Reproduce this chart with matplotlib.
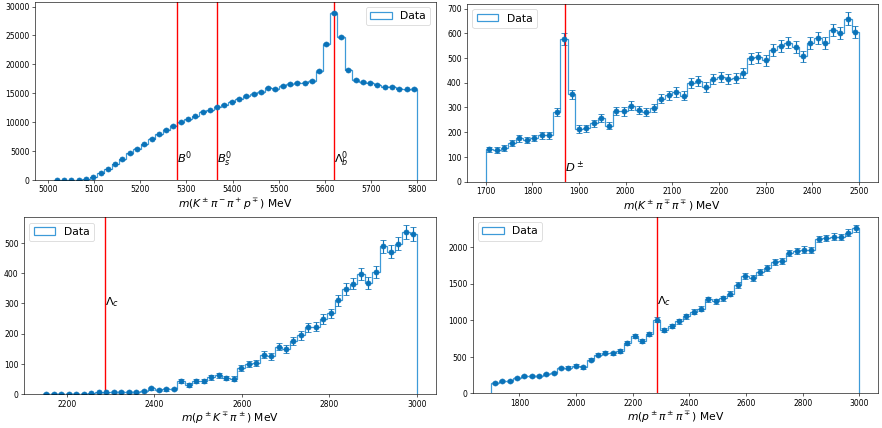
import numpy as np
import matplotlib
matplotlib.use("Agg")
import matplotlib.pyplot as plt

# ---------------- data ----------------
# Panel 1: m(K pi pi p)
p1_lo, p1_hi, p1_n = 5012, 5800, 50
p1_counts = [10, 15, 25, 40, 120, 460, 1150, 1900, 2770, 3580,
             4620, 5420, 6170, 7100, 7900, 8650, 9350, 9980, 10500, 11000,
             11830, 12060, 12700, 13040, 13560, 14080, 14540, 14890, 15175, 15980,
             15750, 16270, 16560, 16850, 16850, 17140, 18810, 23480, 28850, 24700,
             19100, 17250, 16960, 16850, 16500, 16160, 16160, 15810, 15690, 15750]
p1_lines = [5279.6, 5366.9, 5619.6]
p1_labels = [r'$B^0$', r'$B^0_s$', r'$\Lambda^0_b$']
p1_label_y = 3000

# Panel 2: m(K pi pi)
p2_lo, p2_hi, p2_n = 1700, 2500, 50
p2_counts = [130, 128, 137, 155, 175, 168, 177, 188, 188, 283,
             578, 353, 213, 216, 236, 258, 226, 285, 284, 307,
             290, 282, 297, 336, 349, 363, 347, 398, 406, 383,
             415, 423, 415, 418, 440, 500, 503, 492, 533, 548,
             563, 545, 508, 560, 580, 561, 614, 600, 660, 605]
p2_lines = [1869.7]
p2_labels = [r'$D^\pm$']
p2_label_y = 40

# Panel 3: m(p K pi)
p3_lo, p3_hi, p3_n = 2145, 3000, 50
p3_counts = [1, 1, 1, 1, 1, 1, 2, 5, 5, 7,
             7, 7, 7, 9, 19, 13, 15, 17, 42, 30,
             42, 42, 55, 62, 53, 51, 86, 100, 103, 130,
             125, 157, 149, 175, 194, 221, 223, 249, 267, 310,
             348, 366, 398, 368, 405, 489, 472, 498, 536, 529]
p3_lines = [2286.5]
p3_labels = [r'$\Lambda_c$']
p3_label_y = 295

# Panel 4: m(p pi pi)
p4_lo, p4_hi, p4_n = 1700, 3000, 50
p4_counts = [146, 164, 174, 215, 233, 233, 242, 265, 278, 347,
             352, 379, 356, 461, 530, 557, 548, 580, 685, 781,
             717, 808, 1009, 863, 922, 986, 1055, 1119, 1160, 1288,
             1260, 1301, 1365, 1484, 1603, 1576, 1667, 1722, 1799, 1817,
             1922, 1950, 1968, 1959, 2114, 2128, 2146, 2142, 2197, 2260]
p4_lines = [2286.5]
p4_labels = [r'$\Lambda_c$']
p4_label_y = 1220

xlabels = [r'$m(K^\pm\pi^-\pi^+p^\mp)$ MeV',
           r'$m(K^\pm\pi^\mp\pi^\mp)$ MeV',
           r'$m(p^\pm K^\mp\pi^\pm)$ MeV',
           r'$m(p^\pm\pi^\pm\pi^\mp)$ MeV']

# ---------------- figure ----------------
dpi = 55.125
fig = plt.figure(figsize=(882 / dpi, 428.2 / dpi), dpi=dpi)

rects = [
    [0.0397, 0.5794, 0.4543, 0.4166],
    [0.5295, 0.5755, 0.4656, 0.4152],
    [0.0272, 0.0794, 0.4668, 0.4129],
    [0.5360, 0.0810, 0.4591, 0.4127],
]
ylims = [30870, 720, 586, 2420]
legend_locs = ['upper right', 'upper left', 'upper left', 'upper left']

panels = [
    (p1_lo, p1_hi, p1_n, p1_counts, p1_lines, p1_labels, p1_label_y),
    (p2_lo, p2_hi, p2_n, p2_counts, p2_lines, p2_labels, p2_label_y),
    (p3_lo, p3_hi, p3_n, p3_counts, p3_lines, p3_labels, p3_label_y),
    (p4_lo, p4_hi, p4_n, p4_counts, p4_lines, p4_labels, p4_label_y),
]

for i, (lo, hi, n, counts, lines, labels, ly) in enumerate(panels):
    ax = fig.add_axes(rects[i])
    edges = np.linspace(lo, hi, n + 1)
    centers = 0.5 * (edges[:-1] + edges[1:])
    counts = np.asarray(counts, dtype=float)
    ax.hist(centers, bins=edges, weights=counts, histtype='step',
            color='#3d9ad8', linewidth=1.6, label='Data')
    ax.errorbar(centers, counts, yerr=np.sqrt(counts), fmt='o',
                color='#0a72b8', markersize=6.5, capsize=4, elinewidth=1.5)
    for xv, lab in zip(lines, labels):
        ax.axvline(xv, color='red', linewidth=1.8)
        ax.text(xv, ly, lab, fontsize=15)
    ax.set_ylim(0, ylims[i])
    ax.set_xlabel(xlabels[i], fontsize=14, labelpad=3)
    ax.legend(loc=legend_locs[i], fontsize=14)

fig.savefig('out.png', dpi=dpi)
